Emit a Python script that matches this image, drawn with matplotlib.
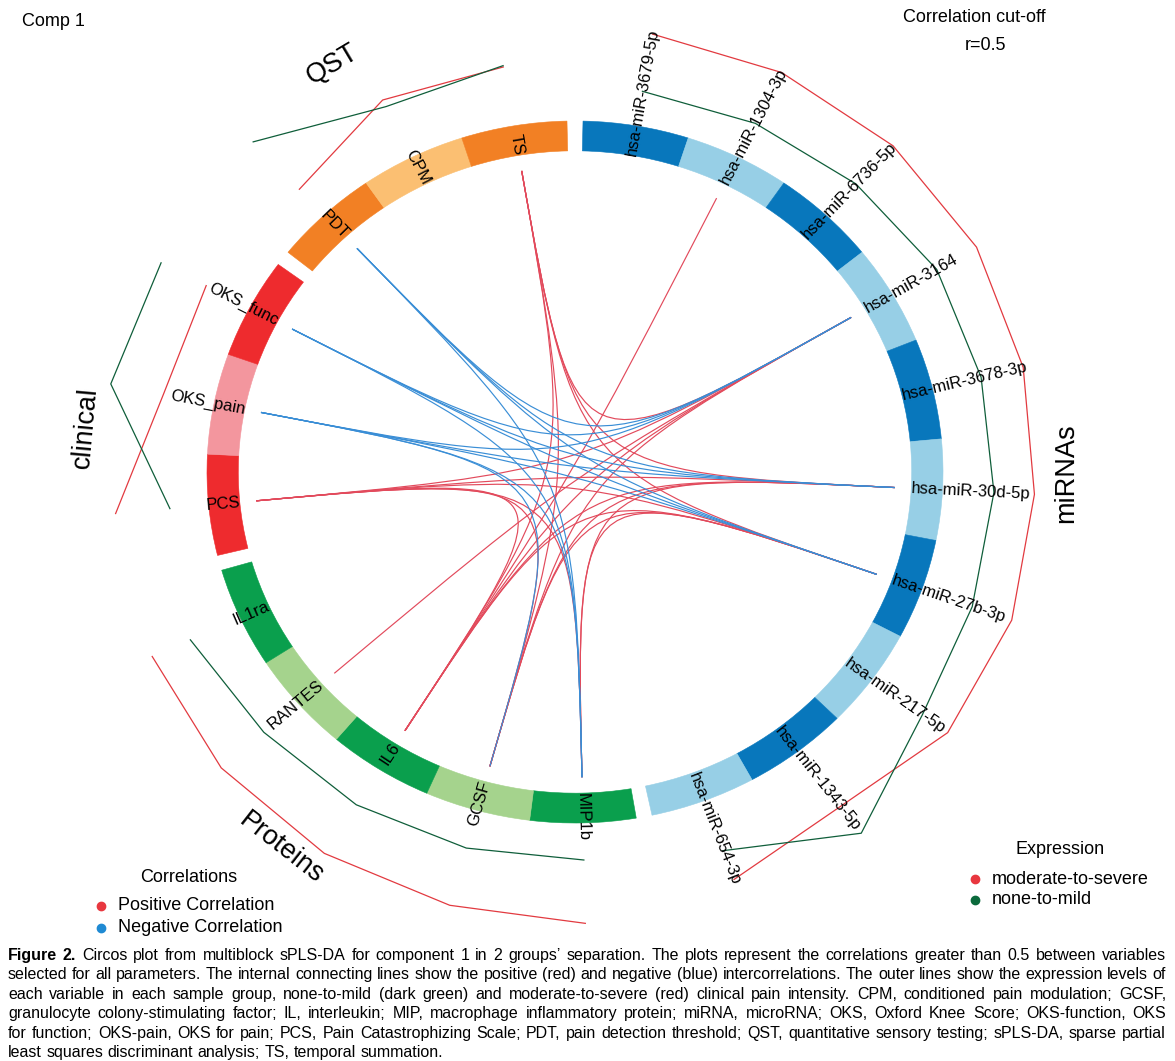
import numpy as np
import matplotlib.pyplot as plt
from matplotlib.patches import Wedge, PathPatch
from matplotlib.path import Path
from matplotlib.lines import Line2D

plt.rcParams['font.family'] = ['Liberation Sans', 'DejaVu Sans']

# ---- data ---------------------------------------------------------------
# variables of each block, clockwise from the gap at the top
mirnas = ['hsa-miR-3679-5p', 'hsa-miR-1304-3p', 'hsa-miR-6736-5p', 'hsa-miR-3164',
          'hsa-miR-3678-3p', 'hsa-miR-30d-5p', 'hsa-miR-27b-3p', 'hsa-miR-217-5p',
          'hsa-miR-1343-5p', 'hsa-miR-654-3p']
proteins = ['MIP1b', 'GCSF', 'IL6', 'RANTES', 'IL1ra']
clinical = ['PCS', 'OKS_pain', 'OKS_func']
qst = ['PDT', 'CPM', 'TS']
block_names = ['miRNAs', 'Proteins', 'clinical', 'QST']

# mean expression per group (scaled 0-1), drawn as the outer lines
mirna_mild = [0.0, 0.04, 0.11, 0.21, 0.19, 0.21, 0.24, 0.37, 1.0, 0.27]
mirna_severe = [0.87, 0.89, 0.89, 0.87, 0.81, 0.79, 0.84, 0.82, 0.50, 0.73]
protein_mild = [0.03, 0.06, 0.10, 0.13, 0.26]
protein_severe = [0.98, 0.95, 0.96, 0.94, 0.86]
clinical_mild = [0.03, 0.98, 0.91]
clinical_severe = [0.81, 0.21, 0.18]
qst_mild = [0.97, 0.32, 0.39]
qst_severe = [0.0, 0.43, 0.37]

# correlations above the r=0.5 cut-off
pos_links = [('PCS', 'hsa-miR-3164'), ('PCS', 'hsa-miR-30d-5p'), ('PCS', 'hsa-miR-27b-3p'),
             ('PCS', 'GCSF'), ('PCS', 'IL6'), ('PCS', 'MIP1b'),
             ('TS', 'hsa-miR-3164'), ('TS', 'hsa-miR-30d-5p'), ('TS', 'hsa-miR-27b-3p'),
             ('TS', 'GCSF'), ('TS', 'IL6'),
             ('hsa-miR-1304-3p', 'IL6'), ('RANTES', 'hsa-miR-3164'),
             ('hsa-miR-3164', 'GCSF'), ('hsa-miR-3164', 'IL6'),
             ('hsa-miR-30d-5p', 'GCSF'), ('hsa-miR-30d-5p', 'IL6'),
             ('hsa-miR-30d-5p', 'MIP1b'), ('hsa-miR-27b-3p', 'GCSF'),
             ('hsa-miR-27b-3p', 'IL6'), ('hsa-miR-27b-3p', 'MIP1b')]
neg_links = [('PDT', 'hsa-miR-3164'), ('PDT', 'hsa-miR-30d-5p'), ('PDT', 'hsa-miR-27b-3p'),
             ('PDT', 'MIP1b'),
             ('OKS_func', 'hsa-miR-3164'), ('OKS_func', 'hsa-miR-30d-5p'),
             ('OKS_func', 'hsa-miR-27b-3p'), ('OKS_func', 'MIP1b'),
             ('OKS_pain', 'hsa-miR-3164'), ('OKS_pain', 'hsa-miR-30d-5p'),
             ('OKS_pain', 'hsa-miR-27b-3p'), ('OKS_pain', 'MIP1b'),
             ('OKS_pain', 'GCSF')]

caption = [
    "Figure 2. Circos plot from multiblock sPLS-DA for component 1 in 2 groups\u2019 separation. The plots represent the correlations greater than 0.5 between variables",
    "selected for all parameters. The internal connecting lines show the positive (red) and negative (blue) intercorrelations. The outer lines show the expression levels of",
    "each variable in each sample group, none-to-mild (dark green) and moderate-to-severe (red) clinical pain intensity. CPM, conditioned pain modulation; GCSF,",
    "granulocyte colony-stimulating factor; IL, interleukin; MIP, macrophage inflammatory protein; miRNA, microRNA; OKS, Oxford Knee Score; OKS-function, OKS",
    "for function; OKS-pain, OKS for pain; PCS, Pain Catastrophizing Scale; PDT, pain detection threshold; QST, quantitative sensory testing; sPLS-DA, sparse partial",
    "least squares discriminant analysis; TS, temporal summation.",
]

# ---- styling --------------------------------------------------------------
mirna_cols = ['#0877bc', '#97cfe6'] * 5
protein_cols = ['#0a9f4d', '#a5d38d', '#0a9f4d', '#a5d38d', '#0a9f4d']
clinical_cols = ['#ee2b2e', '#f3969e', '#ee2b2e']
qst_cols = ['#f28024', '#fbbf72', '#f28024']
RED_LINK, BLUE_LINK = '#e24a5c', '#3a8ed6'
RED_EXPR, GREEN_EXPR = '#e23a40', '#0f5e3a'

W, H = 1175, 1061
CX, CY = 575, 472          # circle centre in pixels
RX, RY = 368, 351          # pixels per radius unit
GAP = 2.5
R_OUT, R_IN, R_LINK = 1.0, 0.915, 0.87
R_EXPR0, R_BAND = 1.10, 0.19

fig = plt.figure(figsize=(W / 100, H / 100), dpi=100)
ax = fig.add_axes([0, 0, 1, 1])
ax.set_xlim(-CX / RX, (W - CX) / RX)
ax.set_ylim(-(H - CY) / RY, CY / RY)
ax.axis('off')


def fx(px):
    return px / W


def fy(py):
    return 1 - py / H


def pol(a, r):
    t = np.radians(a)
    return r * np.cos(t), r * np.sin(t)


def screen_angle(a):
    t = np.radians(a)
    return np.degrees(np.arctan2(RY * np.sin(t), RX * np.cos(t)))


blocks = [(mirnas, mirna_cols, mirna_mild, mirna_severe),
          (proteins, protein_cols, protein_mild, protein_severe),
          (clinical, clinical_cols, clinical_mild, clinical_severe),
          (qst, qst_cols, qst_mild, qst_severe)]
n_vars = sum(len(b[0]) for b in blocks)
seg = (360 - GAP * len(blocks)) / n_vars

mid = {}
start = 90 - GAP / 2
for names, cols, mild, severe in blocks:
    for name, col in zip(names, cols):
        a0, a1 = start - seg, start
        ax.add_patch(Wedge((0, 0), R_OUT, a0, a1, width=R_OUT - R_IN,
                           facecolor=col, edgecolor=col, lw=0.4))
        m = (a0 + a1) / 2
        mid[name] = m
        phi = screen_angle(m)
        x, y = pol(m, R_IN)
        if np.cos(np.radians(m)) >= 0:
            ax.text(x, y, name, rotation=phi, rotation_mode='anchor',
                    ha='left', va='center', fontsize=12)
        else:
            ax.text(x, y, name, rotation=phi + 180, rotation_mode='anchor',
                    ha='right', va='center', fontsize=12)
        start = a0
    # outer expression lines
    ang = np.radians([mid[n] for n in names])
    for vals, c in [(severe, RED_EXPR), (mild, GREEN_EXPR)]:
        r = R_EXPR0 + R_BAND * np.array(vals)
        ax.plot(r * np.cos(ang), r * np.sin(ang), color=c, lw=0.9)
    start -= GAP

# block titles
label_angles = [-0.1, -126.7, 174.6, 119.6]
for name, a in zip(block_names, label_angles):
    x, y = pol(a, 1.335)
    tang = screen_angle(a)
    rot = tang - 90 if np.sin(np.radians(a)) > 0 else tang + 90
    ax.text(x, y, name, rotation=rot, ha='center', va='center', fontsize=19.5,
            rotation_mode='anchor')

# correlation chords (cubic bezier through the centre)
for links, c in [(pos_links, RED_LINK), (neg_links, BLUE_LINK)]:
    for a, b in links:
        p0 = pol(mid[a], R_LINK)
        p3 = pol(mid[b], R_LINK)
        path = Path([p0, (0, 0), (0, 0), p3],
                    [Path.MOVETO, Path.CURVE4, Path.CURVE4, Path.CURVE4])
        ax.add_patch(PathPatch(path, facecolor='none', edgecolor=c, lw=0.85))

# titles and legends
fig.text(fx(22), fy(22), 'Comp 1', ha='left', va='center', fontsize=13)
fig.text(fx(974), fy(17), 'Correlation cut-off', ha='center', va='center', fontsize=13)
fig.text(fx(985), fy(45), 'r=0.5', ha='center', va='center', fontsize=13)

fig.text(fx(189), fy(878), 'Correlations', ha='center', va='center', fontsize=13)
fig.text(fx(1060), fy(850), 'Expression', ha='center', va='center', fontsize=13)
legend_items = [(101, 906, '#e8373f', 'Positive Correlation'),
                (101, 928, '#1f8ad3', 'Negative Correlation'),
                (975, 879, '#e8373f', 'moderate-to-severe'),
                (975, 900, '#0b6a3c', 'none-to-mild')]
for px, py, c, lab in legend_items:
    fig.add_artist(Line2D([fx(px)], [fy(py)], marker='o', ms=6, color=c, lw=0,
                          transform=fig.transFigure))
    fig.text(fx(px + 17), fy(py), lab, ha='left', va='center', fontsize=13)

# caption, justified word by word
cap_family = ['Liberation Sans Narrow', 'Liberation Sans', 'DejaVu Sans']
renderer = fig.canvas.get_renderer()


def text_w(s, size, weight='normal'):
    t = fig.text(0, 0, s, fontsize=size, family=cap_family, weight=weight)
    w = t.get_window_extent(renderer).width
    t.remove()
    return w


LEFT, RIGHT = 8, 1166
cap_size = 11.5
full = text_w(caption[0], cap_size)
if full > (RIGHT - LEFT) * 0.985:
    cap_size *= (RIGHT - LEFT) * 0.985 / full

for i, line in enumerate(caption):
    words = line.split(' ')
    weights = ['bold' if (i == 0 and k < 2) else 'normal' for k in range(len(words))]
    widths = [text_w(w, cap_size, wt) for w, wt in zip(words, weights)]
    if i < len(caption) - 1:
        gap = (RIGHT - LEFT - sum(widths)) / (len(words) - 1)
    else:
        gap = text_w('a b', cap_size) - text_w('ab', cap_size)
    x = LEFT
    y = 955.5 + 19.4 * i
    for w, wt, wd in zip(words, weights, widths):
        fig.text(fx(x), fy(y), w, ha='left', va='center', fontsize=cap_size,
                 family=cap_family, weight=wt)
        x += wd + gap

fig.savefig('out.png', dpi=100)
